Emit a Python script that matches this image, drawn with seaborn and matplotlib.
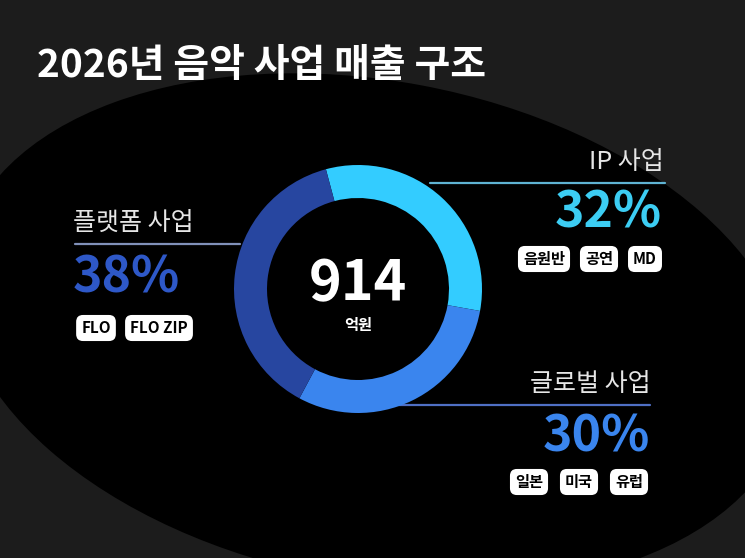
import matplotlib
matplotlib.use("Agg")
import matplotlib.pyplot as plt
from matplotlib.patches import Ellipse
import seaborn as sns

# ---- data ----
title = "2026년 음악 사업 매출 구조"
segments = ["IP 사업", "글로벌 사업", "플랫폼 사업"]
shares = [32, 30, 38]
total_value = 914
total_unit = "억원"
ip_tags = ["음원반", "공연", "MD"]
global_tags = ["일본", "미국", "유럽"]
platform_tags = ["FLO", "FLO ZIP"]

# ---- style ----
sns.set_theme(style="dark")
FONT = ["Noto Sans CJK KR", "DejaVu Sans"]
plt.rcParams["font.family"] = FONT

W, H = 745, 558
BG = "#1c1c1c"
ring_colors = sns.color_palette(["#33ccff", "#3a85ee", "#2746a0"])
pct_colors = ["#3ccdf3", "#3a85ee", "#2e58c8"]
line_colors = ["#5fb3d3", "#4f6fc4", "#8090b8"]

fig = plt.figure(figsize=(W / 100, H / 100), dpi=100, facecolor=BG)
ax = fig.add_axes([0, 0, 1, 1])
ax.set_facecolor(BG)

def Y(y):
    return H - y

# background ellipse
ax.add_patch(Ellipse((375, Y(331)), width=844, height=500, angle=-10.6,
                     facecolor="black", edgecolor="none", zorder=0))

# donut
cx, cy, R, ring_w = 358, 289, 124, 33
ax.pie(shares, colors=ring_colors, startangle=105, counterclock=False,
       radius=R, center=(cx, Y(cy)),
       wedgeprops=dict(width=ring_w, edgecolor="none", linewidth=0))
for p in ax.patches[1:]:
    p.set_zorder(3)

ax.set_xlim(0, W)
ax.set_ylim(0, H)
ax.set_aspect("equal", adjustable="box")
ax.axis("off")

# center text
ax.text(cx, Y(284), f"{total_value}", ha="center", va="center", color="white",
        fontsize=40, fontweight="bold", zorder=5)
ax.text(cx, Y(325), total_unit, ha="center", va="center", color="white",
        fontsize=11, fontweight="bold", zorder=5)

# title
ax.text(37, Y(66), title, ha="left", va="center", color="white",
        fontsize=28, fontweight="bold", zorder=5)

def pill(x, y, s):
    ax.text(x, Y(y), s, ha="center", va="center", color="black", fontsize=11,
            fontweight="bold", zorder=6,
            bbox=dict(boxstyle="round,pad=0.33,rounding_size=0.45",
                      facecolor="white", edgecolor="none"))

# IP (right aligned)
ax.plot([430, 665], [Y(183), Y(183)], color=line_colors[0], lw=1.6, zorder=2)
ax.text(664, Y(162), segments[0], ha="right", va="center", color="#e6e6e6",
        fontsize=18, zorder=5)
ax.text(662, Y(213), f"{shares[0]}%", ha="right", va="center",
        color=pct_colors[0], fontsize=36, fontweight="bold", zorder=5)
for x, s in zip([544, 599, 645], ip_tags):
    pill(x, 259, s)

# Global (right aligned)
ax.plot([395, 650], [Y(405), Y(405)], color=line_colors[1], lw=1.6, zorder=2)
ax.text(651, Y(384), segments[1], ha="right", va="center", color="#e6e6e6",
        fontsize=18, zorder=5)
ax.text(650, Y(437), f"{shares[1]}%", ha="right", va="center",
        color=pct_colors[1], fontsize=36, fontweight="bold", zorder=5)
for x, s in zip([529, 579, 629], global_tags):
    pill(x, 482, s)

# Platform (left aligned)
ax.plot([75, 240], [Y(244), Y(244)], color=line_colors[2], lw=1.6, zorder=2)
ax.text(73, Y(223), segments[2], ha="left", va="center", color="#e6e6e6",
        fontsize=18, zorder=5)
ax.text(73, Y(278), f"{shares[2]}%", ha="left", va="center",
        color=pct_colors[2], fontsize=36, fontweight="bold", zorder=5)
for x, s in zip([96, 159], platform_tags):
    pill(x, 328, s)

fig.savefig("out.png", dpi=100, facecolor=BG)
